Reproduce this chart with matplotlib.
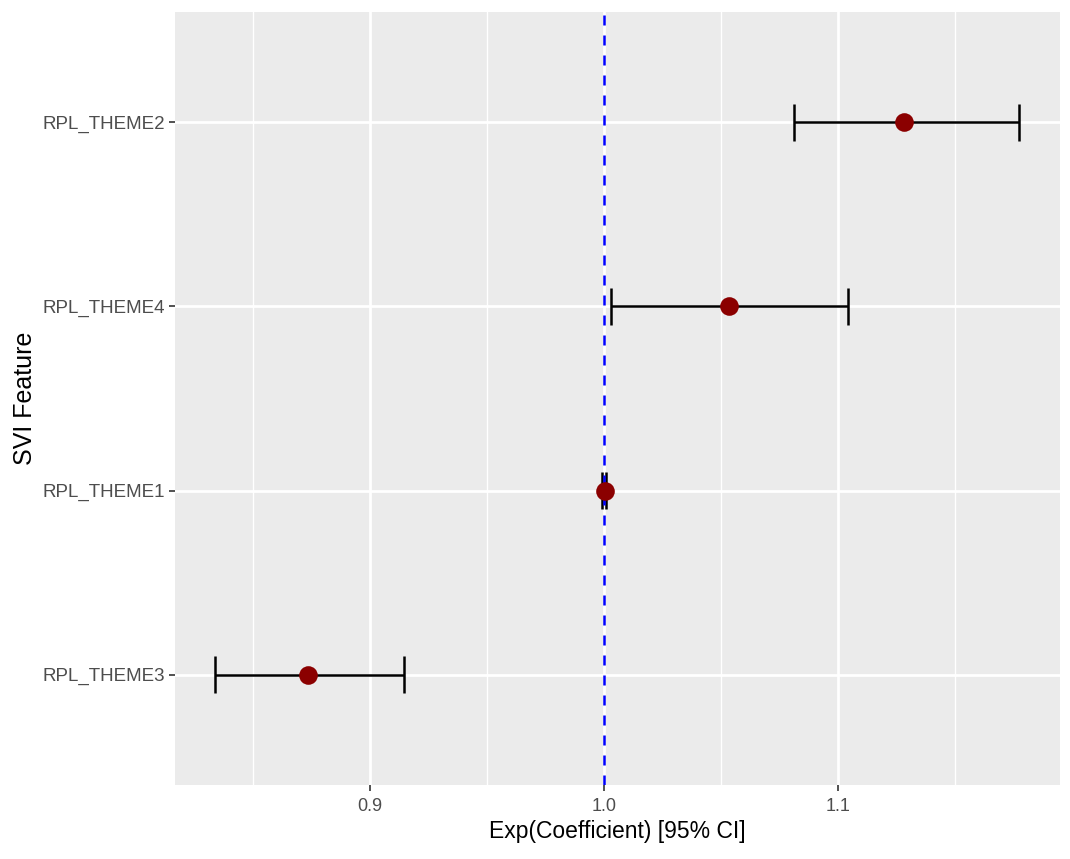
import numpy as np
import matplotlib.pyplot as plt
from matplotlib.ticker import MultipleLocator

# SVI features, bottom to top
features = ['RPL_THEME3', 'RPL_THEME1', 'RPL_THEME4', 'RPL_THEME2']
estimate = [0.8735, 1.0004, 1.0534, 1.1282]
ci_low = [0.8338, 0.9990, 1.0030, 1.0812]
ci_high = [0.9145, 1.0010, 1.1043, 1.1774]

plt.rcParams['font.family'] = ['Liberation Sans', 'DejaVu Sans']

fig = plt.figure(figsize=(10.70, 8.59), dpi=100)
ax = fig.add_axes([0.1636, 0.0861, 0.8271, 0.9])
ax.set_facecolor('#EBEBEB')

y = np.arange(1, len(features) + 1)

# grid like ggplot theme_gray
ax.set_xlim(0.8167, 1.1949)
ax.set_ylim(0.4, 4.6)
ax.xaxis.set_major_locator(MultipleLocator(0.1))
ax.xaxis.set_minor_locator(MultipleLocator(0.05))
ax.set_yticks(y)
ax.set_yticklabels(features)
ax.grid(which='major', color='white', lw=2)
ax.grid(which='minor', axis='x', color='white', lw=1)
ax.set_axisbelow(True)
for s in ax.spines.values():
    s.set_visible(False)

ax.tick_params(which='major', length=4, width=1.2, color='#333333',
               labelcolor='#4D4D4D')
ax.tick_params(axis='x', labelsize=13, pad=5)
ax.tick_params(axis='y', labelsize=13.5, pad=3)
ax.tick_params(which='minor', length=0)
ax.xaxis.set_major_formatter(plt.FuncFormatter(lambda v, p: f'{v:.1f}'))

# error bars
ax.hlines(y, ci_low, ci_high, color='black', lw=1.8, zorder=3)
ax.vlines(ci_low, y - 0.1, y + 0.1, color='black', lw=1.8, zorder=3)
ax.vlines(ci_high, y - 0.1, y + 0.1, color='black', lw=1.8, zorder=3)

ax.axvline(1.0, color='blue', ls=(0, (4, 4)), lw=1.8, zorder=4)

ax.scatter(estimate, y, s=180, color='#8B0000', zorder=5, linewidths=0)

ax.set_xlabel('Exp(Coefficient) [95% CI]', fontsize=16.5, labelpad=4)
ax.set_ylabel('SVI Feature', fontsize=18, labelpad=4)

fig.savefig('out.png', dpi=100)
